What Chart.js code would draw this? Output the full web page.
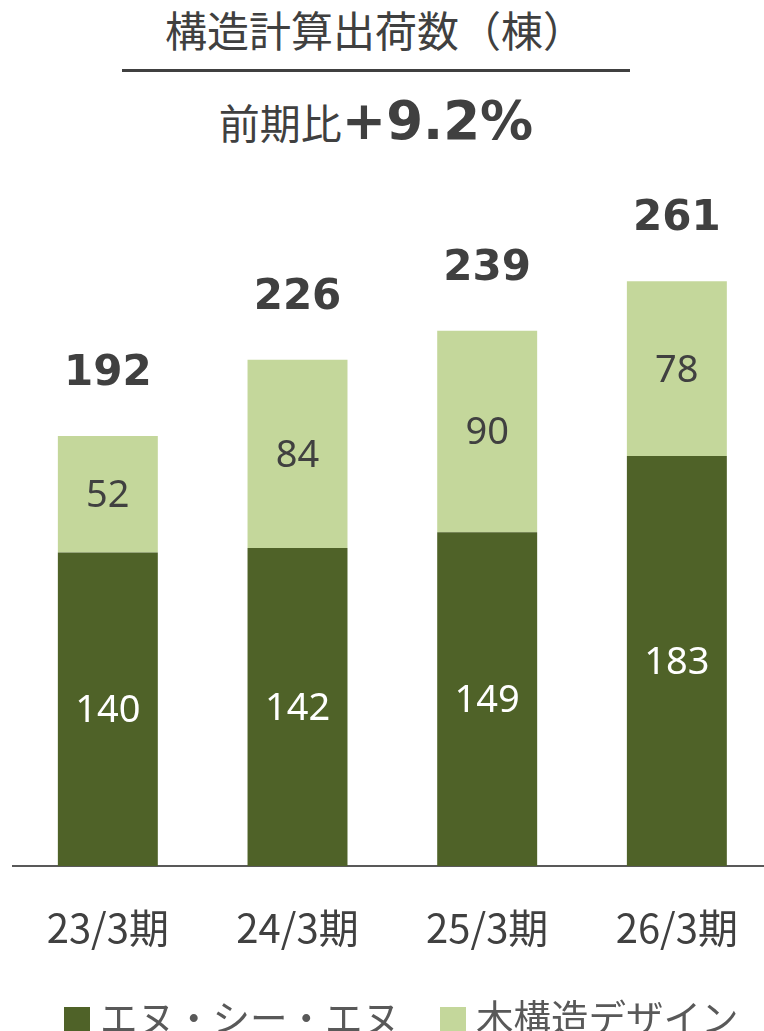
<!DOCTYPE html>
<html lang="ja">
<head>
<meta charset="utf-8">
<title>構造計算出荷数（棟）</title>
<script src="https://cdn.jsdelivr.net/npm/chart.js@4/dist/chart.umd.min.js"></script>
<style>
  html, body { margin: 0; padding: 0; background: #fff; overflow: hidden; }
  body { width: 764px; height: 1031px; position: relative; font-family: "Noto Sans CJK JP", "Noto Sans", sans-serif; color: #404040; }
  .title { position: absolute; left: 0; width: 750px; top: 0px; text-align: center; font-size: 42px; line-height: 58px; white-space: nowrap; }
  .rule { position: absolute; left: 122px; width: 508px; top: 69px; height: 3px; background: #404040; }
  .ratio { position: absolute; left: 0; width: 752px; top: 89px; text-align: center; line-height: 64px; white-space: nowrap; }
  .ratio .lbl { font-size: 41px; }
  .ratio .num { font-family: "DejaVu Sans", sans-serif; font-weight: bold; font-size: 53px; }
  .wrap { position: absolute; left: 0; top: 150px; width: 776px; height: 840px; }
  .legend { position: absolute; left: 64px; top: 990px; height: 50px; display: flex; align-items: center; white-space: nowrap; color: #595959; font-size: 37.5px; }
  .legend .box { width: 26px; height: 26px; margin-right: 10px; margin-top: 10px; }
  .legend .item { display: flex; align-items: center; margin-right: 40px; }
</style>
</head>
<body>
<div class="title">構造計算出荷数（棟）</div>
<div class="rule"></div>
<div class="ratio"><span class="lbl">前期比</span><span class="num">+9.2%</span></div>
<div class="wrap"><canvas id="chart"></canvas></div>
<div class="legend" id="legend"></div>

<script>
// 期ごとの出荷数
const periods = ['23/3期', '24/3期', '25/3期', '26/3期'];
const ncnValues = [140, 142, 149, 183];
const designValues = [52, 84, 90, 78];
const totals = [192, 226, 239, 261];

const darkGreen = '#4F6228';
const lightGreen = '#C4D79B';
const textColor = '#404040';

// 棒の中の数値と合計を描く
const barLabels = {
    id: 'barLabels',
    afterDatasetsDraw(chart) {
        const ctx = chart.ctx;
        ctx.save();
        ctx.textAlign = 'center';
        ctx.textBaseline = 'middle';
        ctx.font = '38px "Noto Sans", sans-serif';
        chart.data.datasets.forEach((ds, di) => {
            const meta = chart.getDatasetMeta(di);
            meta.data.forEach((bar, i) => {
                ctx.fillStyle = di === 0 ? '#ffffff' : textColor;
                ctx.fillText(String(ds.data[i]), bar.x, (bar.y + bar.base) / 2 + 2);
            });
        });
        const top = chart.getDatasetMeta(1);
        ctx.font = 'bold 42px "DejaVu Sans", sans-serif';
        ctx.fillStyle = textColor;
        top.data.forEach((bar, i) => {
            ctx.fillText(String(totals[i]), bar.x, bar.y - 62);
        });
        ctx.restore();
    }
};

const myChart = new Chart(document.getElementById('chart'), {
    type: 'bar',
    data: {
        labels: periods,
        datasets: [
            {
                label: 'エヌ・シー・エヌ',
                data: ncnValues,
                backgroundColor: darkGreen,
                borderWidth: 0
            },
            {
                label: '木構造デザイン',
                data: designValues,
                backgroundColor: lightGreen,
                borderWidth: 0
            }
        ]
    },
    options: {
        responsive: true,
        maintainAspectRatio: false,
        animation: false,
        datasets: {
            bar: {
                categoryPercentage: 1,
                barPercentage: 0.527
            }
        },
        layout: {
            padding: { left: 13, right: 0, top: 44, bottom: 0 }
        },
        plugins: {
            title: { display: false },
            tooltip: { enabled: false },
            legend: { display: false }
        },
        scales: {
            x: {
                stacked: true,
                grid: { display: false, drawTicks: false },
                border: { display: true, color: '#595959', width: 2 },
                ticks: {
                    color: textColor,
                    padding: 38,
                    font: { family: '"Noto Sans CJK JP", sans-serif', size: 40 }
                }
            },
            y: {
                stacked: true,
                display: false,
                min: 0,
                max: 300
            }
        }
    },
    plugins: [barLabels]
});

// 凡例はデータセットの名前と色から作る
const legendEl = document.getElementById('legend');
myChart.data.datasets.forEach(ds => {
    const item = document.createElement('span');
    item.className = 'item';
    const box = document.createElement('span');
    box.className = 'box';
    box.style.background = ds.backgroundColor;
    const txt = document.createElement('span');
    txt.textContent = ds.label;
    item.appendChild(box);
    item.appendChild(txt);
    legendEl.appendChild(item);
});
</script>
</body>
</html>
